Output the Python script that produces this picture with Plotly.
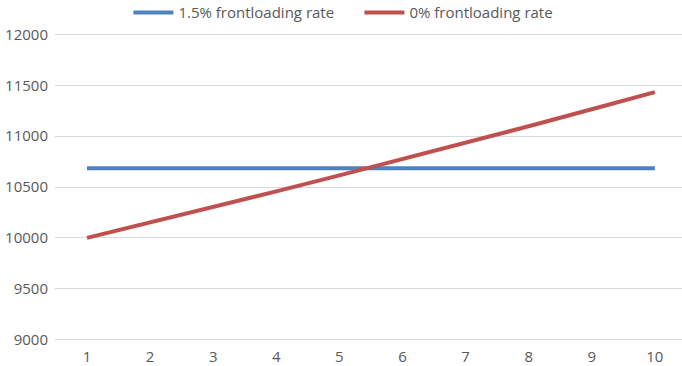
import plotly.graph_objects as go

# Years on the horizontal axis
years = [1, 2, 3, 4, 5, 6, 7, 8, 9, 10]

# Annual amounts for each scenario
frontloaded_15 = [10685, 10685, 10685, 10685, 10685, 10685, 10685, 10685, 10685, 10685]
frontloaded_0 = [10000, 10150, 10302, 10457, 10614, 10773, 10934, 11098, 11265, 11434]

series_names = ["1.5% frontloading rate", "0% frontloading rate"]
y_ticks = [9000, 9500, 10000, 10500, 11000, 11500, 12000]
y_tick_labels = [str(v) for v in y_ticks]

BLUE = "#4F81BD"
RED = "#C0504D"
GRID = "#D9D9D9"
TEXT = "#595959"
FONT = "Open Sans, Liberation Sans, sans-serif"

fig = go.Figure()
fig.add_trace(go.Scatter(x=years, y=frontloaded_15, mode="lines", name=series_names[0],
                         line=dict(color=BLUE, width=4)))
fig.add_trace(go.Scatter(x=years, y=frontloaded_0, mode="lines", name=series_names[1],
                         line=dict(color=RED, width=4)))

fig.update_layout(
    width=682, height=366,
    margin=dict(l=55, r=0, t=33, b=25, autoexpand=False),
    paper_bgcolor="white", plot_bgcolor="white",
    font=dict(family=FONT, size=15, color=TEXT),
    showlegend=True,
    legend=dict(orientation="h", xref="container", x=0.527, xanchor="center",
                yref="container", y=0.965, yanchor="middle",
                font=dict(family=FONT, size=15, color=TEXT),
                itemwidth=40, entrywidth=176, bgcolor="rgba(0,0,0,0)"),
    xaxis=dict(range=[0.493, 10.43], tickmode="array", tickvals=years,
               showgrid=False, zeroline=False, showline=False, ticks="",
               ticklabelstandoff=5, automargin=False,
               tickfont=dict(size=15, color=TEXT)),
    yaxis=dict(range=[8985, 12015], tickmode="array", tickvals=y_ticks,
               ticktext=y_tick_labels, automargin=False,
               showgrid=True, gridcolor=GRID, gridwidth=1, zeroline=False,
               showline=False, ticks="", ticklabelstandoff=6,
               tickfont=dict(size=15, color=TEXT)),
)

fig.write_html("out.html")
